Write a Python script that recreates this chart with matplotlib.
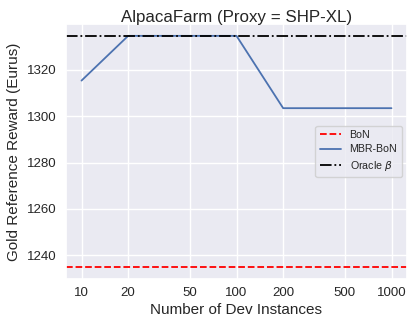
import numpy as np
import matplotlib
matplotlib.use("Agg")
import matplotlib.pyplot as plt
import seaborn as sns

# number of dev instances vs gold reward
dev_instances = [10, 20, 50, 100, 200, 500, 1000]
mbr_bon = [1315.4, 1334.7, 1334.7, 1334.7, 1303.5, 1303.5, 1303.5]
bon_value = 1235.0
oracle_value = 1334.7
xticks = [10, 20, 50, 100, 200, 500, 1000]

sns.set_theme(style="darkgrid")
plt.rcParams['font.family'] = ['Liberation Sans', 'DejaVu Sans']

W, H = 408, 322
left, right, top, bottom = 66, 407, 24.3, 278.5
fig = plt.figure(figsize=(W / 100, H / 100), dpi=100)
ax = fig.add_axes([left / W, 1 - bottom / H, (right - left) / W, (bottom - top) / H])
aw, ah = right - left, bottom - top

ax.axhline(bon_value, color='red', linestyle='--', linewidth=1.3, label='BoN')
ax.plot(dev_instances, mbr_bon, color=sns.color_palette()[0], linewidth=1.3, label='MBR-BoN')
ax.axhline(oracle_value, color='black', linestyle='-.', linewidth=1.3, label=r'Oracle $\beta$')

ax.set_xscale('log')
ax.set_xticks(xticks)
ax.set_xticklabels([str(t) for t in xticks])
ax.minorticks_off()
ax.set_yticks([1240, 1260, 1280, 1300, 1320])

ax.set_title('AlpacaFarm (Proxy = SHP-XL)', fontsize=12.2, pad=2)
ax.set_xlabel('Number of Dev Instances', fontsize=11)
ax.set_ylabel('Gold Reference Reward (Eurus)', fontsize=11)
# pin axis labels in pixel terms
ax.xaxis.set_label_coords(0.5, -(303 - bottom) / ah)
ax.yaxis.set_label_coords(-(left - 21.5) / aw, 0.5)
ax.tick_params(axis='both', length=0, labelsize=9.5)
ax.tick_params(axis='x', pad=6)
ax.tick_params(axis='y', pad=7)
ax.legend(loc='center right', fontsize=7.7, handlelength=2.0, labelspacing=0.4)

fig.savefig('out.png', dpi=100)
